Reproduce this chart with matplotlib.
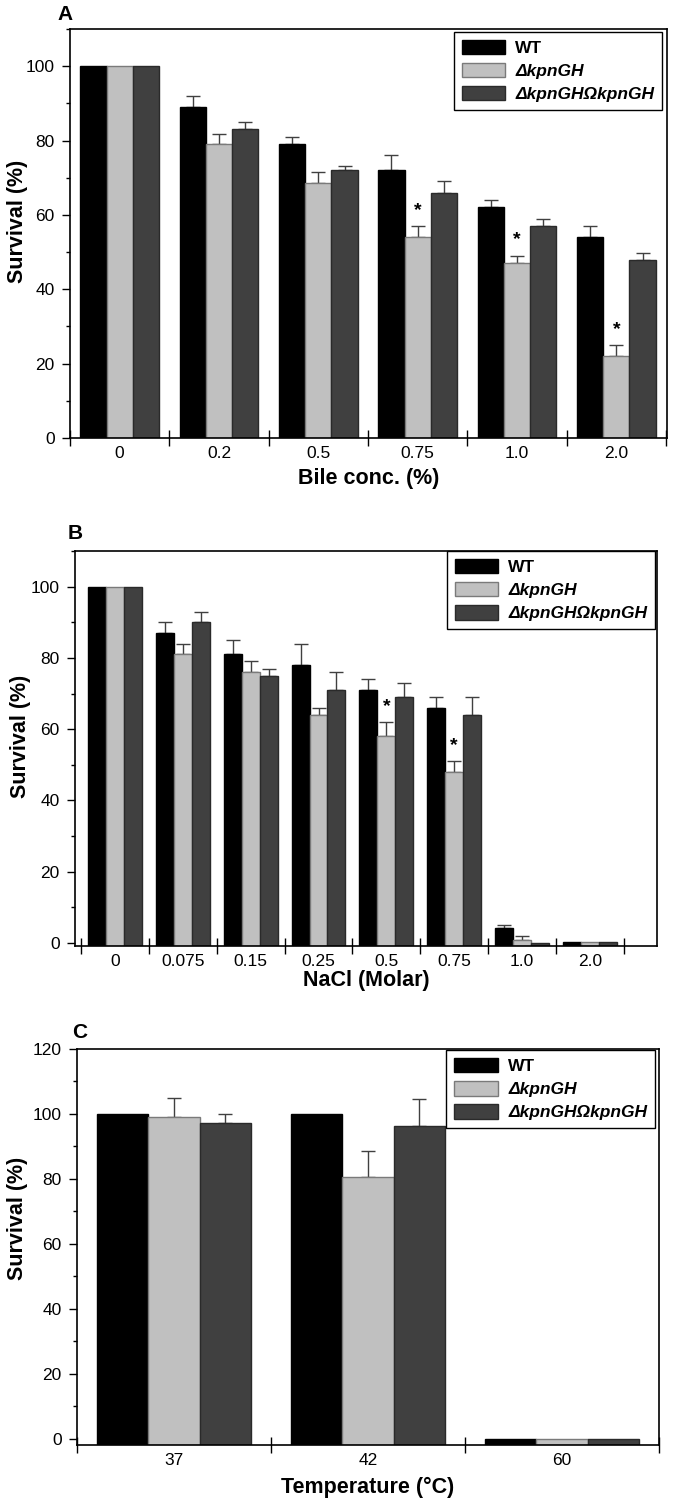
import numpy as np
import matplotlib
matplotlib.use("Agg")
import matplotlib.pyplot as plt

plt.rcParams["font.family"] = ["Liberation Sans", "DejaVu Sans"]

series_names = ["WT", "\u0394kpnGH", "\u0394kpnGH\u03A9kpnGH"]

# panel A: bile
bile_conc = ["0", "0.2", "0.5", "0.75", "1.0", "2.0"]
bile_wt = [100, 89, 79, 72, 62, 54]
bile_wt_err = [0, 3, 2, 4, 2, 3]
bile_ko = [100, 79, 68.5, 54, 47, 22]
bile_ko_err = [0, 2.7, 3, 3, 2, 3]
bile_comp = [100, 83, 72, 66, 57, 48]
bile_comp_err = [0, 2, 1.2, 3, 2, 1.7]
bile_sig = [False, False, False, True, True, True]

# panel B: NaCl
nacl_conc = ["0", "0.075", "0.15", "0.25", "0.5", "0.75", "1.0", "2.0"]
nacl_wt = [100, 87, 81, 78, 71, 66, 4.2, 0.2]
nacl_wt_err = [0, 3, 4, 6, 3, 3, 0.9, 0]
nacl_ko = [100, 81, 76, 64, 58, 48, 0.9, 0.2]
nacl_ko_err = [0, 3, 3, 2, 4, 3, 1, 0]
nacl_comp = [100, 90, 75, 71, 69, 64, 0.1, 0.2]
nacl_comp_err = [0, 3, 2, 5, 4, 5, 0, 0]
nacl_sig = [False, False, False, False, True, True, False, False]

# panel C: temperature
temps = ["37", "42", "60"]
temp_wt = [100, 100, 0.1]
temp_wt_err = [0, 0, 0]
temp_ko = [99, 80.5, 0.1]
temp_ko_err = [6, 8, 0]
temp_comp = [97.3, 96.4, 0.1]
temp_comp_err = [2.8, 8.1, 0]
temp_sig = [False, False, False]

fills = ["#000000", "#c0c0c0", "#404040"]
edges = ["#000000", "#7a7a7a", "#2a2a2a"]

W, H = 673, 1503
fig = plt.figure(figsize=(W / 100, H / 100), dpi=100)


def box(l, t, r, b):
    return [l / W, 1 - b / H, (r - l) / W, (b - t) / H]


def panel(ax, cats, vals, errs, sig, ylim, ymajor, yminor, xlim, bounds,
          xlabel, xl_y, yl_x, yl_y, leg_anchor):
    x = np.arange(len(cats))
    bw = 0.264
    base = ylim[0]
    for k in range(3):
        v = np.array(vals[k], dtype=float)
        ax.bar(x + (k - 1) * bw, v - base, bw, bottom=base, color=fills[k],
               edgecolor=edges[k], linewidth=1, label=series_names[k], zorder=2)
        e = np.array(errs[k], dtype=float)
        m = e > 0
        if m.any():
            ax.errorbar(x[m] + (k - 1) * bw, v[m], yerr=[np.zeros(m.sum()), e[m]],
                        fmt="none", ecolor="#404040", elinewidth=1, capsize=5,
                        capthick=1, zorder=1)
    for i, s in enumerate(sig):
        if s:
            ax.text(x[i], vals[1][i] + errs[1][i] + 2, "*", ha="center",
                    va="bottom", fontsize=14, fontweight="bold")
    ax.set_xlim(*xlim)
    ax.set_ylim(*ylim)
    ax.set_yticks(ymajor)
    ax.set_yticks(yminor, minor=True)
    ax.set_xticks(bounds)
    ax.set_xticklabels([])
    ax.set_xticks(x, minor=True)
    ax.set_xticklabels(cats, minor=True)
    ax.tick_params(axis="x", which="major", direction="inout", length=11, width=1)
    ax.tick_params(axis="x", which="minor", length=0, pad=6, labelsize=12.5)
    ax.tick_params(axis="y", which="major", direction="out", length=6, width=1,
                   labelsize=12.5, pad=5)
    ax.tick_params(axis="y", which="minor", direction="out", length=3, width=1)
    for sp in ax.spines.values():
        sp.set_linewidth(1.2)
    ax.set_xlabel(xlabel, fontsize=15.5, fontweight="bold")
    ax.xaxis.set_label_coords(0.5, xl_y)
    ax.set_ylabel("Survival (%)", fontsize=15.5, fontweight="bold")
    ax.yaxis.set_label_coords(yl_x, yl_y)
    leg = ax.legend(loc="upper right", bbox_to_anchor=leg_anchor, borderaxespad=0,
                    fancybox=False, edgecolor="black", framealpha=1, fontsize=12.5,
                    handlelength=2.5, handleheight=0.9, handletextpad=0.6,
                    labelspacing=0.4, borderpad=0.45)
    leg.get_frame().set_linewidth(1)
    for i, t in enumerate(leg.get_texts()):
        t.set_fontweight("bold")
        if i > 0:
            t.set_fontstyle("italic")


axA = fig.add_axes(box(70, 29, 667, 438))
panel(axA, bile_conc, [bile_wt, bile_ko, bile_comp],
      [bile_wt_err, bile_ko_err, bile_comp_err], bile_sig,
      (0, 110), range(0, 101, 20), range(10, 111, 20), (-0.49, 5.51),
      np.arange(-0.5, 6, 1.0), "Bile conc. (%)", -0.073, -0.07, 0.53,
      (0.992, 0.993))

axB = fig.add_axes(box(75, 551, 657, 946))
panel(axB, nacl_conc, [nacl_wt, nacl_ko, nacl_comp],
      [nacl_wt_err, nacl_ko_err, nacl_comp_err], nacl_sig,
      (-0.85, 110), range(0, 101, 20), range(10, 111, 20), (-0.59, 7.99),
      np.arange(-0.5, 8, 1.0), "NaCl (Molar)", -0.061, -0.076, 0.53,
      (0.997, 1.0))

axC = fig.add_axes(box(77, 1049, 659, 1445))
panel(axC, temps, [temp_wt, temp_ko, temp_comp],
      [temp_wt_err, temp_ko_err, temp_comp_err], temp_sig,
      (-1.85, 120), range(0, 121, 20), range(10, 111, 20), (-0.5, 2.5),
      np.arange(-0.5, 3, 1.0), "Temperature (\u00b0C)", -0.081, -0.084, 0.573,
      (0.993, 0.997))

for lab, px, py in [("A", 65, 15), ("B", 75, 533), ("C", 80, 1032)]:
    fig.text(px / W, 1 - py / H, lab, ha="center", va="center", fontsize=15,
             fontweight="bold")

fig.savefig("out.png", dpi=100)
